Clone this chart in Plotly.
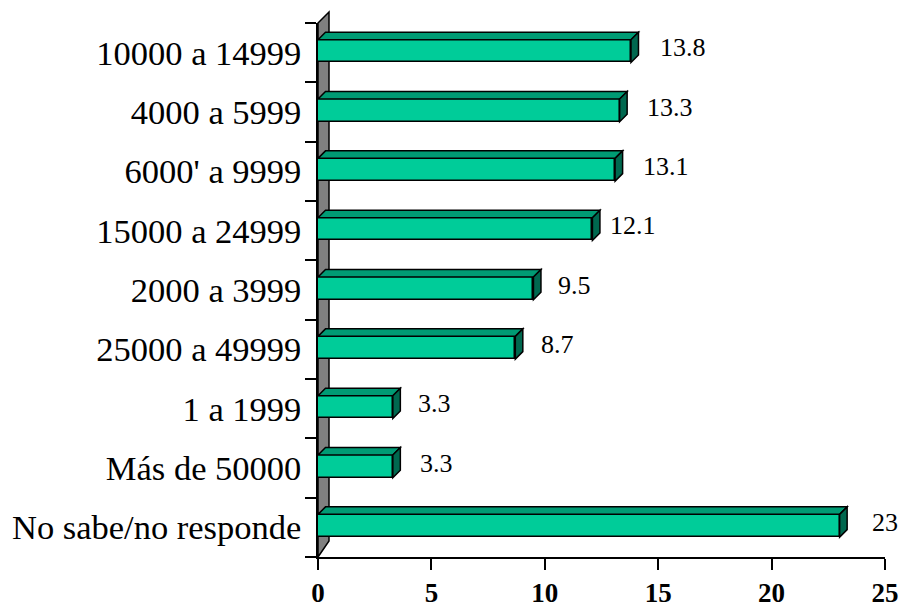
import plotly.graph_objects as go

# Income brackets (top to bottom) and their shares
categories = [
    "10000 a 14999",
    "4000 a 5999",
    "6000' a 9999",
    "15000 a 24999",
    "2000 a 3999",
    "25000 a 49999",
    "1 a 1999",
    "Más de 50000",
    "No sabe/no responde",
]
values = [13.8, 13.3, 13.1, 12.1, 9.5, 8.7, 3.3, 3.3, 23]
x_ticks = [0, 5, 10, 15, 20, 25]

# label nudges (pixels) to the right of each bar end
label_dx = [27, 25, 26, 16, 23, 24, 23, 25, 30]

# figure geometry
W, H = 902, 607
ML, MR, MT, MB = 318, 17, 23, 50
PW, PH = W - ML - MR, H - MT - MB
X_MAX = 25
px_x = PW / X_MAX                  # pixels per value unit
px_y = PH / len(categories)        # pixels per category band

DEPTH = 7.5                        # oblique depth of the bars, px
dx = DEPTH / px_x
dy = DEPTH / px_y
BAR_W = 0.383
BAR_OFF = -0.2185

FRONT = "#00CC99"
TOP = "#009B74"
SIDE = "#00684F"
EDGE = "#000000"

pos = list(range(len(categories)))

fig = go.Figure()

# front faces of the bars
fig.add_trace(go.Bar(
    y=pos, x=values, orientation="h",
    width=BAR_W, offset=BAR_OFF,
    marker=dict(color=FRONT, line=dict(color=EDGE, width=1.5)),
    hoverinfo="skip", showlegend=False,
))

shapes = []

# gray back wall on the left
wx = 11 / PW
shapes.append(dict(
    type="path", xref="paper", yref="paper", layer="below",
    path=f"M 0 1 L {wx} {1 + 11 / PH} L {wx} {16 / PH} L 0 0 Z",
    fillcolor="#808080", line=dict(color=EDGE, width=1.5),
))

# top and side faces of each bar
for p, v in zip(pos, values):
    yt = p + BAR_OFF
    yb = yt + BAR_W
    top = (f"M 0 {yt} L {v} {yt} L {v + dx} {yt - dy} "
           f"L {dx} {yt - dy} Z")
    side = (f"M {v} {yt} L {v + dx} {yt - dy} L {v + dx} {yb - dy} "
            f"L {v} {yb} Z")
    shapes.append(dict(type="path", xref="x", yref="y", path=top,
                       fillcolor=TOP, line=dict(color=EDGE, width=1.5)))
    shapes.append(dict(type="path", xref="x", yref="y", path=side,
                       fillcolor=SIDE, line=dict(color=EDGE, width=1.5)))

# floor line continuing left of the wall
shapes.append(dict(type="line", xref="paper", yref="paper",
                   x0=-12 / PW, x1=0, y0=0, y1=0,
                   line=dict(color=EDGE, width=1.5)))

# value labels
annotations = []
for p, v, d in zip(pos, values, label_dx):
    annotations.append(dict(
        x=v, y=p, xref="x", yref="y",
        text=f"{v:g}", showarrow=False,
        xanchor="left", yanchor="middle",
        xshift=d, yshift=5,
        font=dict(family="Liberation Serif", size=26, color="black"),
    ))

fig.update_layout(
    width=W, height=H, autosize=False,
    margin=dict(l=ML, r=MR, t=MT, b=MB, pad=0, autoexpand=False),
    paper_bgcolor="white", plot_bgcolor="rgba(0,0,0,0)",
    shapes=shapes, annotations=annotations,
    bargap=0, showlegend=False,
)

fig.update_xaxes(
    range=[0, X_MAX], tickvals=x_ticks, ticktext=[str(t) for t in x_ticks],
    automargin=False,
    showgrid=False, zeroline=False,
    showline=True, linecolor=EDGE, linewidth=1.5,
    ticks="outside", ticklen=11, tickwidth=1.5, tickcolor=EDGE,
    tickfont=dict(family="Liberation Serif", size=27, color="black",
                  weight="bold"),
    ticklabelstandoff=0,
)

fig.update_yaxes(
    range=[len(categories) - 0.5, -0.5],
    tickvals=pos, ticktext=categories,
    automargin=False,
    showgrid=False, zeroline=False,
    showline=True, linecolor=EDGE, linewidth=1.5,
    ticks="",
    minor=dict(ticks="outside", ticklen=11, tickwidth=1.5, tickcolor=EDGE,
               tick0=0.5, dtick=1, showgrid=False),
    tickfont=dict(family="Liberation Serif", size=34.5, color="black"),
    ticklabelstandoff=8,
)

fig.write_html("out.html")
